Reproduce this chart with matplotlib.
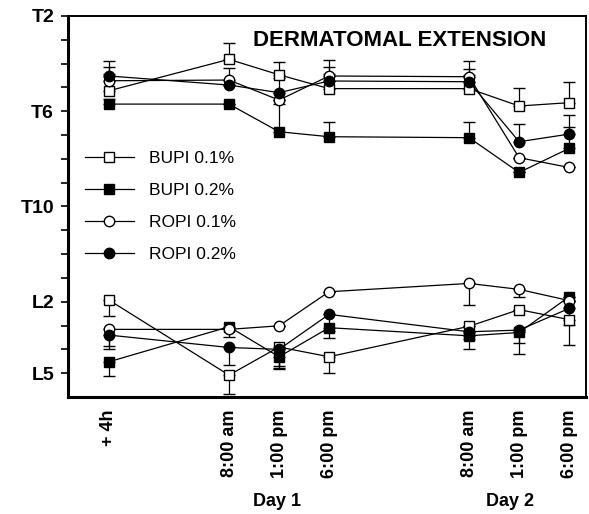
import numpy as np
import matplotlib
matplotlib.use("Agg")
import matplotlib.pyplot as plt
from matplotlib.lines import Line2D

plt.rcParams['font.family'] = ['Liberation Sans', 'DejaVu Sans']

# time axis (hours after +4h reading)
hours = [0, 12, 17, 22, 36, 41, 46]
time_labels = ["+ 4h", "8:00 am", "1:00 pm", "6:00 pm", "8:00 am", "1:00 pm", "6:00 pm"]

# dermatome levels: T2 = 2 ... T12 = 12, L1 = 13 ... L5 = 17
level_ticks = list(range(2, 18))
level_names = {2: "T2", 6: "T6", 10: "T10", 14: "L2", 17: "L5"}

series_names = ["BUPI 0.1%", "BUPI 0.2%", "ROPI 0.1%", "ROPI 0.2%"]

# upper (cephalad) extension and error bars
bupi01_up = [5.14, 3.82, 4.47, 5.05, 5.05, 5.78, 5.64]
bupi01_up_err = [1.0, 0.67, 0.55, 0.9, 0.82, 0.77, 0.88]
bupi02_up = [5.70, 5.70, 6.86, 7.07, 7.11, 8.57, 7.56]
bupi02_up_err = [0.2, 0.0, 1.16, 0.63, 0.67, 0.0, 0.91]
ropi01_up = [4.72, 4.69, 5.53, 4.52, 4.55, 7.95, 8.36]
ropi01_up_err = [0.3, 0.5, 0.0, 0.67, 0.67, 0.0, 0.0]
ropi02_up = [4.52, 4.90, 5.22, 4.73, 4.76, 7.28, 6.96]
ropi02_up_err = [0.63, 0.0, 0.6, 0.3, 0.3, 0.74, 0.8]

# lower (caudal) extension and error bars
bupi01_lo = [13.93, 17.08, 15.90, 16.31, 15.03, 14.33, 14.75]
bupi01_lo_err = [0.65, 0.8, 0.9, 0.68, 0.0, 0.0, 1.07]
bupi02_lo = [16.52, 15.05, 16.31, 15.09, 15.43, 15.29, 13.79]
bupi02_lo_err = [0.6, 0.0, 0.5, 0.45, 0.57, 0.9, 0.0]
ropi01_lo = [15.16, 15.16, 15.01, 13.58, 13.23, 13.48, 13.95]
ropi01_lo_err = [0.7, 0.3, 0.0, 0.0, 0.9, 0.3, 0.0]
ropi02_lo = [15.40, 15.92, 16.00, 14.53, 15.26, 15.19, 14.28]
ropi02_lo_err = [0.6, 0.74, 0.69, 0.7, 0.3, 0.55, 0.7]

styles = {
    "BUPI 0.1%": dict(marker='s', mfc='white'),
    "BUPI 0.2%": dict(marker='s', mfc='black'),
    "ROPI 0.1%": dict(marker='o', mfc='white'),
    "ROPI 0.2%": dict(marker='o', mfc='black'),
}

upper = [(bupi01_up, bupi01_up_err), (bupi02_up, bupi02_up_err),
         (ropi01_up, ropi01_up_err), (ropi02_up, ropi02_up_err)]
lower = [(bupi01_lo, bupi01_lo_err), (bupi02_lo, bupi02_lo_err),
         (ropi01_lo, ropi01_lo_err), (ropi02_lo, ropi02_lo_err)]

fig = plt.figure(figsize=(5.89, 5.14), dpi=100)
ax = fig.add_axes([0.1154, 0.2276, 0.8797, 0.7413])

common = dict(color='black', lw=0.9, ms=7.5, mec='black', mew=1.0,
              elinewidth=0.9, capsize=4.5, capthick=0.9)

for name, (vals, err) in zip(series_names, upper):
    zeros = np.zeros(len(vals))
    # error bars drawn toward the head (smaller level number)
    ax.errorbar(hours, vals, yerr=[err, zeros], **styles[name], **common)

for name, (vals, err) in zip(series_names, lower):
    zeros = np.zeros(len(vals))
    ax.errorbar(hours, vals, yerr=[zeros, err], **styles[name], **common)

ax.set_xlim(-4.1, 47.7)
ax.set_ylim(18, 2)

ax.set_yticks(level_ticks)
ax.set_yticklabels([level_names.get(t, "") for t in level_ticks],
                   fontsize=14, fontweight='bold')
ax.tick_params(axis='y', direction='out', length=5, width=1.2, pad=5)

ax.set_xticks(hours)
ax.set_xticklabels(time_labels, rotation=90, fontsize=13, fontweight='bold',
                   va='top', ha='center')
ax.tick_params(axis='x', length=0, pad=9)

for side in ['left', 'bottom']:
    ax.spines[side].set_linewidth(2.2)
for side in ['top', 'right']:
    ax.spines[side].set_linewidth(1.4)

ax.text(0.641, 0.962, "DERMATOMAL EXTENSION", transform=ax.transAxes,
        ha='center', va='top', fontsize=16, fontweight='bold')

handles = [Line2D([], [], color='black', lw=0.9, ms=7.5, mec='black', mew=1.0,
                  label=name, **styles[name]) for name in series_names]
ax.legend(handles=handles, loc='upper left', bbox_to_anchor=(0.033, 0.645),
          frameon=False, fontsize=12.5, handlelength=2.8, handletextpad=0.9,
          labelspacing=0.97, borderpad=0, borderaxespad=0)

fig.text(277 / 589, 1 - 502 / 514, "Day 1", ha='center', va='center',
         fontsize=13, fontweight='bold')
fig.text(510 / 589, 1 - 502 / 514, "Day 2", ha='center', va='center',
         fontsize=13, fontweight='bold')

fig.savefig("out.png", dpi=100)
